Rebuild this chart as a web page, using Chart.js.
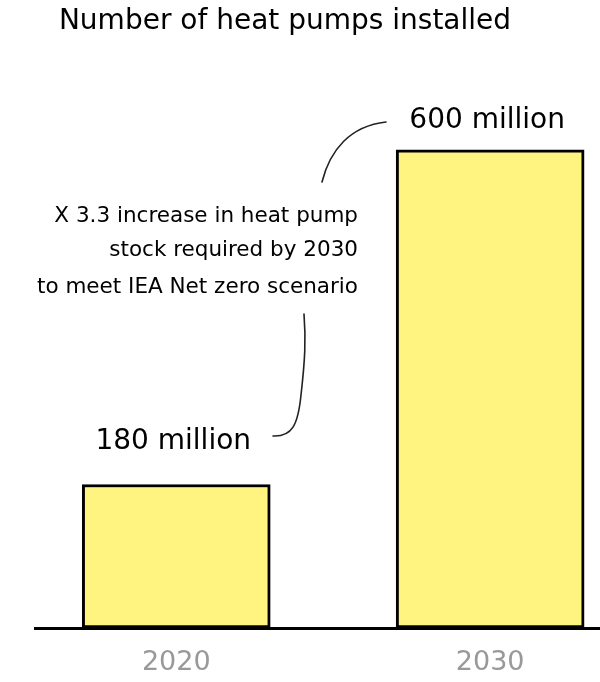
<!DOCTYPE html>
<html>
<head>
<meta charset="utf-8">
<style>
  html, body { margin: 0; padding: 0; background: #ffffff; }
  #wrap { width: 600px; height: 682px; }
</style>
<script src="https://cdn.jsdelivr.net/npm/chart.js@4/dist/chart.umd.min.js"></script>
</head>
<body>
<div id="wrap"><canvas id="chart" width="600" height="682"></canvas></div>
<script>
// Heat pump stock, millions of units
const years = [2020, 2030];
const stockMillions = [180, 600];
const valueLabels = ['180 million', '600 million'];
const tickYears = [2020, 2030];

const FONT = '"DejaVu Sans", "Open Sans", sans-serif';
const titleText = 'Number of heat pumps installed';
const noteLines = [
  'X 3.3 increase in heat pump',
  'stock required by 2030',
  'to meet IEA Net zero scenario'
];

// Title, value labels, explanatory note and its leader lines
const annotations = {
  id: 'annotations',
  afterDatasetsDraw(chart) {
    const ctx = chart.ctx;
    const meta = chart.getDatasetMeta(0);
    ctx.save();

    // title
    ctx.fillStyle = '#000';
    ctx.font = '28px ' + FONT;
    ctx.textAlign = 'center';
    ctx.textBaseline = 'middle';
    ctx.fillText(titleText, 285, 22);

    // value labels above each bar
    ctx.font = '28px ' + FONT;
    meta.data.forEach((bar, i) => {
      const off = i === 0 ? 43 : 29;
      ctx.fillText(valueLabels[i], bar.x - 3, bar.y - off);
    });

    // note text, right aligned
    ctx.font = '21.5px ' + FONT;
    ctx.textAlign = 'right';
    const noteY = [216, 250, 287];
    noteLines.forEach((t, i) => ctx.fillText(t, 358, noteY[i]));

    // leader lines
    ctx.strokeStyle = '#222';
    ctx.lineWidth = 1.6;
    ctx.lineCap = 'round';
    ctx.beginPath();
    ctx.moveTo(273, 436);
    ctx.bezierCurveTo(292, 437, 298, 425, 301, 395);
    ctx.bezierCurveTo(305, 360, 306, 340, 304, 314);
    ctx.stroke();

    ctx.beginPath();
    ctx.moveTo(322, 182);
    ctx.bezierCurveTo(330, 150, 350, 126, 386, 122);
    ctx.stroke();

    ctx.restore();
  }
};

new Chart(document.getElementById('chart'), {
  type: 'bar',
  data: {
    datasets: [{
      data: years.map((y, i) => ({ x: y, y: stockMillions[i] })),
      backgroundColor: '#fff480',
      borderColor: '#000',
      borderWidth: 3,
      borderSkipped: false,
      barThickness: 188
    }]
  },
  options: {
    responsive: false,
    animation: false,
    layout: { padding: { top: 70, left: 35, right: 0, bottom: 0 } },
    plugins: {
      legend: { display: false },
      tooltip: { enabled: false }
    },
    scales: {
      x: {
        type: 'linear',
        offset: false,
        min: 2015.5,
        max: 2033.5,
        grid: { display: false, drawTicks: false },
        border: { display: true, color: '#000', width: 3 },
        afterBuildTicks(scale) {
          scale.ticks = tickYears.map(v => ({ value: v }));
        },
        afterFit(scale) { scale.height = 54; },
        ticks: {
          padding: 19,
          color: '#999',
          font: { family: FONT, size: 27 },
          callback: v => String(v)
        }
      },
      y: {
        display: false,
        min: 0,
        max: 700
      }
    }
  },
  plugins: [annotations]
});
</script>
</body>
</html>
